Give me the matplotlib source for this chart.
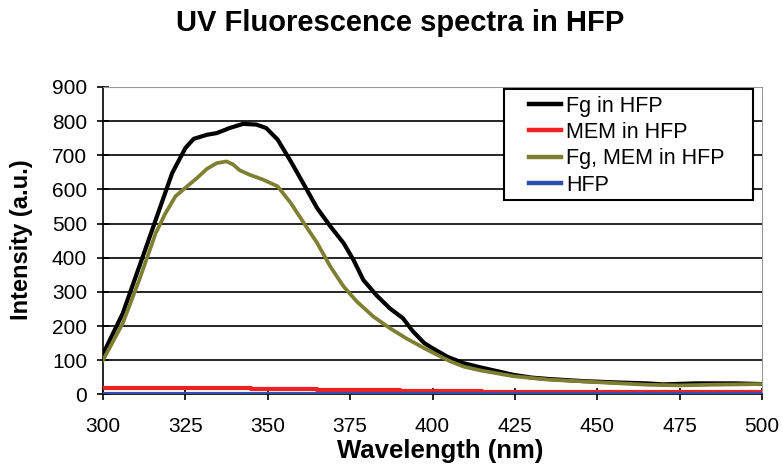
import matplotlib
matplotlib.use("Agg")
import matplotlib.pyplot as plt
from matplotlib.patches import Rectangle

plt.rcParams["font.family"] = ["Liberation Sans", "DejaVu Sans"]

# Fg in HFP (black)
wl_fg = [300, 306, 311, 316, 321, 325, 327.5, 331.5, 334.5, 338.5, 342.5, 346.5,
         349.5, 353, 357, 361, 365, 369, 373, 376, 379, 383, 387, 391, 394,
         397.5, 400, 404.5, 409.5, 414.5, 419.5, 424.5, 430, 435, 445, 455,
         465, 470, 480, 492, 500]
int_fg = [118, 237, 374, 511, 648, 721, 748, 760, 765, 780, 792, 790,
          780, 746, 682, 614, 545, 492, 443, 394, 335, 290, 252, 223, 185,
          150, 135, 110, 91, 79, 68, 57, 49, 45, 39, 35,
          32, 29, 32, 32, 30]

# MEM in HFP (red)
wl_mem = [300, 345, 365, 390, 415, 500]
int_mem = [18, 15, 13, 11, 8, 8]

# Fg, MEM in HFP (olive)
wl_fgmem = [300, 306, 311, 316, 319, 322, 325.5, 328.5, 331.5, 334.5, 337.5,
            339.5, 341.5, 344.5, 348.5, 353, 357, 361, 365, 369, 373, 377,
            382, 387, 392, 397.5, 401.5, 405.5, 409.5, 414.5, 424.5, 435,
            445, 455, 465, 475, 485, 500]
int_fgmem = [100, 208, 335, 472, 531, 580, 609, 633, 660, 677, 682,
             673, 656, 643, 629, 609, 560, 501, 443, 374, 316, 272,
             228, 194, 164, 135, 115, 96, 81, 70, 53, 43,
             38, 33, 28, 26, 28, 30]

# HFP (blue)
wl_hfp = [300, 500]
int_hfp = [2, 2]

fig = plt.figure(figsize=(7.83, 4.70), dpi=100)
ax = fig.add_axes([103 / 783, 75.7 / 470, 659 / 783, 307.3 / 470])

ax.plot(wl_fg, int_fg, color="black", lw=3.0, label="Fg in HFP", zorder=4)
ax.plot(wl_mem, int_mem, color="#ee2222", lw=3.0, drawstyle="steps-post",
        label="MEM in HFP", zorder=3)
ax.plot(wl_fgmem, int_fgmem, color="#7f7f32", lw=2.7, label="Fg, MEM in HFP", zorder=4)
ax.plot(wl_hfp, int_hfp, color="#2f4fb0", lw=3.0, label="HFP", zorder=3)

ax.set_xlim(300, 500)
ax.set_ylim(0, 900)
ax.set_xticks(range(300, 501, 25))
ax.set_yticks(range(0, 901, 100))
ax.yaxis.grid(True, color="black", lw=1.2)
ax.set_axisbelow(True)

for side in ["top", "right"]:
    ax.spines[side].set_color("#999999")
    ax.spines[side].set_linewidth(0.8)
ax.spines["left"].set_linewidth(1.2)
ax.spines["bottom"].set_linewidth(1.2)
ax.tick_params(direction="inout", length=9, width=1.2, labelsize=15)
ax.tick_params(axis="x", pad=12)
ax.tick_params(axis="y", pad=7)

ax.set_xlabel("Wavelength (nm)", fontsize=18.5, fontweight="bold", va="center")
ax.xaxis.set_label_coords(0.511, -0.1845)
ax.set_ylabel("Intensity (a.u.)", fontsize=17, fontweight="bold", va="center")
ax.yaxis.set_label_coords(-0.123, 0.502)
fig.text(0.511, 0.951, "UV Fluorescence spectra in HFP", fontsize=21,
         fontweight="bold", ha="center", va="center")

# legend box drawn by hand, larger than its entries
ax.add_patch(Rectangle((0.6085, 0.632), 0.3775, 0.3615, transform=ax.transAxes,
                       facecolor="white", edgecolor="black", lw=1.5, zorder=5))
leg = ax.legend(loc="upper left", bbox_to_anchor=(0.646, 0.972), fontsize=15.5,
                frameon=False, handlelength=1.5, handletextpad=0.25,
                borderpad=0, labelspacing=0.25, borderaxespad=0)
leg.set_zorder(6)
for h in leg.get_lines():
    h.set_linewidth(3.2)

fig.savefig("out.png", dpi=100)
